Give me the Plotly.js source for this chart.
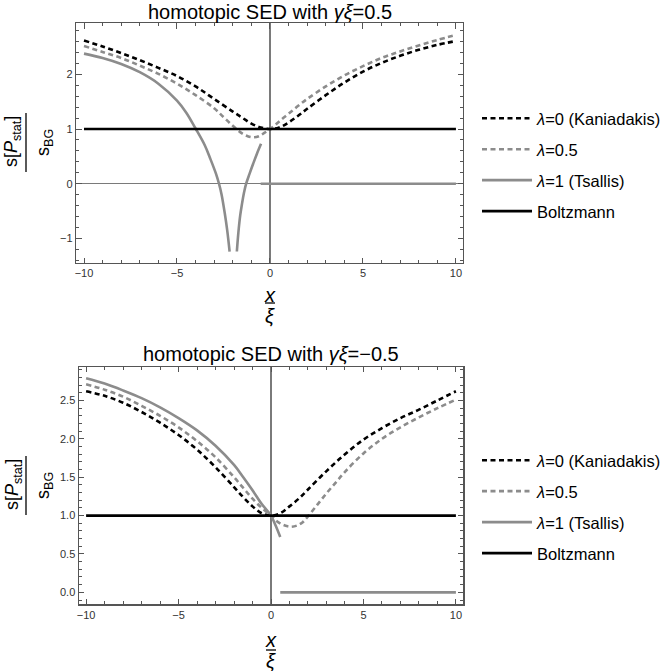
<!DOCTYPE html>
<html>
<head>
<meta charset="utf-8">
<script src="https://cdn.plot.ly/plotly-3.0.1.min.js"></script>
<style>html,body{margin:0;padding:0;background:#fff;}#chart{width:662px;height:671px;}</style>
</head>
<body>
<div id="chart"></div>
<script>
// ---- Data ----
// Top panel: homotopic SED with γξ = 0.5
const topK0X = [-10, -9, -8, -7, -6, -5, -4, -3, -2, -1.5, -1, -0.5, 0, 0.5, 1, 1.5, 2, 3, 4, 5, 6, 7, 8, 9, 10];
const topK0Y = [2.62, 2.51, 2.39, 2.26, 2.12, 1.97, 1.78, 1.55, 1.32, 1.21, 1.10, 1.03, 1.0, 1.03, 1.12, 1.24, 1.37, 1.62, 1.85, 2.05, 2.21, 2.34, 2.45, 2.54, 2.61];
const topH05X = [-10, -9, -8, -7, -6, -5, -4, -3, -2.5, -2, -1.5, -1.2, -0.9, -0.6, -0.3, 0, 0.3, 0.6, 1, 1.5, 2, 3, 4, 5, 6, 7, 8, 9, 10];
const topH05Y = [2.52, 2.41, 2.30, 2.16, 2.01, 1.83, 1.62, 1.38, 1.22, 1.06, 0.92, 0.87, 0.85, 0.87, 0.93, 1.0, 1.08, 1.17, 1.28, 1.42, 1.55, 1.78, 1.98, 2.15, 2.30, 2.42, 2.53, 2.63, 2.72];
const topTsX = [-10, -9, -8, -7, -6, -5, -4.5, -4, -3.5, -3.2, -2.9, -2.74, -2.6, -2.43, -2.3, -2.17, null,
                -1.78, -1.7, -1.6, -1.5, -1.4, -1.28, -1.1, -0.9, -0.7, -0.48, null, -0.5, 10];
const topTsY = [2.38, 2.30, 2.19, 2.04, 1.83, 1.52, 1.30, 1.01, 0.70, 0.45, 0.18, 0.0, -0.20, -0.54, -0.85, -1.24, null,
                -1.24, -0.90, -0.58, -0.36, -0.17, 0.0, 0.18, 0.37, 0.55, 0.73, null, 0, 0];
const topBoltzX = [-10, 10];
const topBoltzY = [1, 1];

// Bottom panel: homotopic SED with γξ = -0.5
const botK0X = [-10, -9, -8, -7, -6, -5, -4, -3, -2, -1.5, -1, -0.5, 0, 0.5, 1, 1.5, 2, 3, 4, 5, 6, 7, 8, 9, 10];
const botK0Y = [2.62, 2.56, 2.47, 2.35, 2.21, 2.05, 1.86, 1.63, 1.37, 1.24, 1.12, 1.03, 1.0, 1.03, 1.12, 1.22, 1.34, 1.58, 1.80, 1.99, 2.14, 2.27, 2.38, 2.50, 2.62];
const botH05X = [-10, -9, -8, -7, -6, -5, -4, -3, -2, -1.5, -1, -0.5, 0, 0.3, 0.6, 0.9, 1.1, 1.4, 1.7, 2.0, 2.5, 3, 3.5, 4, 5, 6, 7, 8, 9, 10];
const botH05Y = [2.71, 2.64, 2.55, 2.43, 2.30, 2.15, 1.97, 1.76, 1.50, 1.36, 1.22, 1.10, 1.0, 0.93, 0.885, 0.86, 0.855, 0.87, 0.91, 0.99, 1.14, 1.29, 1.43, 1.57, 1.81, 2.00, 2.15, 2.28, 2.40, 2.51];
const botTsX = [-10, -9, -8, -7, -6, -5, -4, -3, -2, -1.5, -1, -0.5, 0, 0.25, 0.5, null, 0.5, 10];
const botTsY = [2.79, 2.72, 2.63, 2.53, 2.41, 2.27, 2.11, 1.91, 1.66, 1.50, 1.33, 1.15, 1.0, 0.87, 0.72, null, 0, 0];
const botBoltzX = [-10, 10];
const botBoltzY = [1, 1];

const names = ['<i>λ</i>=0 (Kaniadakis)', '<i>λ</i>=0.5', '<i>λ</i>=1 (Tsallis)', 'Boltzmann'];
const titleTop = 'homotopic SED with <i>γξ</i>=0.5';
const titleBot = 'homotopic SED with <i>γξ</i>=\u22120.5';

// ---- Styles ----
const FONT = 'Liberation Sans, Arial, sans-serif';
const W = 662, H = 671;
const px = v => v / W;
const py = v => 1 - v / H;
const styles = [
  {color: '#000000', width: 2.6, dash: '5px,3.5px'},
  {color: '#8c8c8c', width: 2.6, dash: '5px,3.5px'},
  {color: '#8c8c8c', width: 2.6, dash: 'solid'},
  {color: '#000000', width: 2.6, dash: 'solid'}
];

function mk(x, y, i, xa, ya, lg) {
  return {
    x: x, y: y, type: 'scatter', mode: 'lines', name: names[i],
    line: Object.assign({shape: i === 3 ? 'linear' : 'spline', smoothing: 1}, styles[i]),
    connectgaps: false, xaxis: xa, yaxis: ya, legend: lg, legendgroup: lg + i,
    hoverinfo: 'skip'
  };
}

const data = [
  mk(topK0X, topK0Y, 0, 'x', 'y', 'legend'),
  mk(topH05X, topH05Y, 1, 'x', 'y', 'legend'),
  mk(topTsX, topTsY, 2, 'x', 'y', 'legend'),
  mk(topBoltzX, topBoltzY, 3, 'x', 'y', 'legend'),
  mk(botK0X, botK0Y, 0, 'x2', 'y2', 'legend2'),
  mk(botH05X, botH05Y, 1, 'x2', 'y2', 'legend2'),
  mk(botTsX, botTsY, 2, 'x2', 'y2', 'legend2'),
  mk(botBoltzX, botBoltzY, 3, 'x2', 'y2', 'legend2')
];

function axisBase() {
  return {
    showgrid: false, showline: true, linecolor: '#555', linewidth: 1.2, mirror: 'ticks',
    ticks: 'inside', ticklen: 5.5, tickwidth: 1, tickcolor: '#555',
    tickfont: {family: FONT, size: 11, color: '#333'},
    zerolinecolor: '#7a7a7a', zerolinewidth: 1.5, fixedrange: true
  };
}

const xa = Object.assign(axisBase(), {domain: [px(76), px(463)], range: [-10.43, 10.38], anchor: 'y',
  tickmode: 'linear', tick0: 0, dtick: 5, zeroline: true,
  minor: {ticks: 'inside', dtick: 1, tick0: 0, ticklen: 3, tickcolor: '#555', tickwidth: 1}});
const ya = Object.assign(axisBase(), {domain: [py(263), py(23)], range: [-1.45, 2.94], anchor: 'x',
  tickmode: 'linear', tick0: 0, dtick: 1, zeroline: true,
  minor: {ticks: 'inside', dtick: 0.2, tick0: 0, ticklen: 3, tickcolor: '#555', tickwidth: 1}});
const xa2 = Object.assign(axisBase(), {domain: [px(78.7), px(463.3)], range: [-10.4, 10.4], anchor: 'y2',
  tickmode: 'linear', tick0: 0, dtick: 5, zeroline: true,
  minor: {ticks: 'inside', dtick: 1, tick0: 0, ticklen: 3, tickcolor: '#555', tickwidth: 1}});
const ya2 = Object.assign(axisBase(), {domain: [py(604.3), py(366.7)], range: [-0.156, 2.94], anchor: 'x2',
  tickmode: 'linear', tick0: 0, dtick: 0.5, tickformat: '.1f', zeroline: false,
  minor: {ticks: 'inside', dtick: 0.1, tick0: 0, ticklen: 3, tickcolor: '#555', tickwidth: 1}});

function legendCfg(topPx) {
  return {x: px(477), y: py(topPx), xanchor: 'left', yanchor: 'top', bgcolor: 'rgba(0,0,0,0)',
    font: {family: FONT, size: 16.5, color: '#000'}, tracegroupgap: 6.5, itemwidth: 50,
    traceorder: 'grouped'};
}

function ann(text, x, y, size, angle) {
  return {text: text, xref: 'paper', yref: 'paper', x: px(x), y: py(y), xanchor: 'center', yanchor: 'middle',
    showarrow: false, textangle: angle || 0, font: {family: FONT, size: size, color: '#000'}};
}

const annotations = [
  ann(titleTop, 270, 12, 20),
  ann(titleBot, 271, 354, 20),
  ann('s[<i>P</i><sub>stat</sub>]', 13, 142, 18, -90),
  ann('s<sub>BG</sub>', 44, 143, 18, -90),
  ann('s[<i>P</i><sub>stat</sub>]', 13, 485, 18, -90),
  ann('s<sub>BG</sub>', 44, 486, 18, -90),
  ann('<i>x</i>', 270, 295, 20),
  ann('<i>ξ</i>', 270, 316, 20),
  ann('<i>x</i>', 271, 640, 20),
  ann('<i>ξ</i>', 271, 661, 20)
];

function bar(x0, y0, x1, y1) {
  return {type: 'line', xref: 'paper', yref: 'paper', x0: px(x0), y0: py(y0), x1: px(x1), y1: py(y1),
    line: {color: '#000', width: 1.3}};
}
const shapes = [
  bar(26, 113, 26, 172),
  bar(26, 456, 26, 515),
  bar(265, 303, 275, 303),
  bar(266, 650, 276, 650)
];

const layout = {
  width: W, height: H, margin: {l: 0, r: 0, t: 0, b: 0, autoexpand: false},
  paper_bgcolor: '#fff', plot_bgcolor: '#fff', showlegend: true,
  xaxis: xa, yaxis: ya, xaxis2: xa2, yaxis2: ya2,
  legend: legendCfg(101), legend2: legendCfg(443),
  annotations: annotations, shapes: shapes
};

Plotly.newPlot('chart', data, layout, {staticPlot: true, displayModeBar: false});
</script>
</body>
</html>
